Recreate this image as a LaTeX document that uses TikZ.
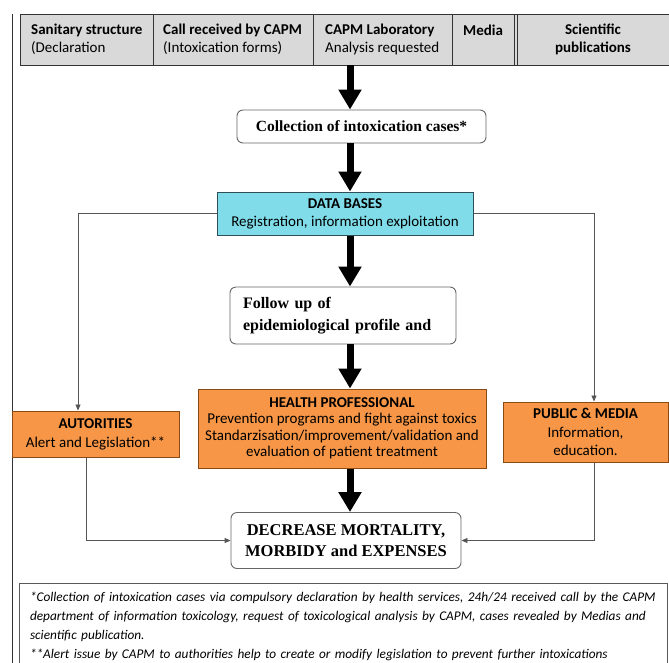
\documentclass[tikz,border=0pt]{standalone}
\usepackage{fontspec}
\setmainfont{Liberation Serif}
\newfontfamily\calfont{Carlito}
\usetikzlibrary{arrows.meta,calc}
\definecolor{hdrgray}{HTML}{D9D9D9}
\definecolor{orng}{HTML}{F79646}
\definecolor{orngdk}{HTML}{8A4A14}
\definecolor{cyanbox}{HTML}{80DCE9}
\definecolor{cyandk}{HTML}{2F4F5A}
\definecolor{lngray}{HTML}{555555}
\tikzset{
  hdrcell/.style={draw=black!80, fill=hdrgray, line width=0.9pt, minimum height=51pt,
    inner sep=0pt},
  hdrtext/.style={inner sep=0pt, align=left, anchor=west,
    font=\calfont\fontsize{15}{18}\selectfont},
  roundbox/.style={draw=black!60, fill=white, rounded corners=6pt, line width=0.9pt,
    inner sep=0pt, font=\bfseries\fontsize{16}{22}\selectfont},
  orngbox/.style={draw=orngdk, fill=orng, line width=1pt, inner sep=0pt, align=center},
  bigarrow/.style={line width=7pt, black, -{Triangle[length=20pt,width=22pt]}},
  thinarrow/.style={line width=0.9pt, lngray, -{Triangle[length=6pt,width=5pt]}}
}
\begin{document}
\begin{tikzpicture}[x=1pt,y=-1pt]
\clip (0,0) rectangle (669,662);
\fill[white] (0,0) rectangle (669,662);
% outer frame line
\draw[line width=1pt, black!80] (12,14) -- (12,670);
% header cells
\node[hdrcell, minimum width=133pt] (h1) at (86.5,39.5) {};
\node[hdrcell, minimum width=160pt] (h2) at (233,39.5) {};
\node[hdrcell, minimum width=139pt] (h3) at (382.5,39.5) {};
\node[hdrcell, minimum width=65pt] (h4) at (484.5,39.5) {};
\node[hdrcell, minimum width=154pt] (h5) at (594,39.5) {};
\draw[line width=0.9pt, black!80] (h5.north west) ++(-2.5,0) -- ++(0,51);
% header texts
\node[hdrtext] (t1) at (31,39.5) {\textbf{Sanitary structure}\\(Declaration};
\node[hdrtext] (t2) at (163,39.5) {\textbf{Call received by CAPM}\\(Intoxication forms)};
\node[hdrtext] (t3) at (325,39.5) {\textbf{CAPM Laboratory}\\Analysis requested};
\node[hdrtext] (t4) at (463,39.5) {\textbf{Media}\\\mbox{}};
\node[hdrtext, anchor=center, align=center] (t5) at (593,39.5) {\textbf{Scientific}\\\textbf{publications}};
% column of boxes
\coordinate (ax) at (350,0);
\node[roundbox, minimum width=249pt, minimum height=33pt, font=\bfseries\fontsize{15.5}{22}\selectfont] (coll) at (361.5,126.5)
  {Collection of intoxication cases*};
\node[draw=cyandk, fill=cyanbox, line width=1pt, inner sep=0pt, align=center,
  minimum width=256pt, minimum height=43pt, font=\calfont\fontsize{15}{18}\selectfont] (db) at (345,213.5)
  {\textbf{DATA BASES}\\Registration, information exploitation};
\node[roundbox, minimum width=226pt, minimum height=57pt, text width=200pt, align=left] (fol) at (343,315.5)
  {Follow up of\\epidemiological profile and};
\node[orngbox, minimum width=288pt, minimum height=79pt, font=\calfont\fontsize{15}{16.5}\selectfont] (hp) at (342,428.5)
  {\textbf{HEALTH PROFESSIONAL}\\Prevention programs and fight against toxics\\Standarzisation/improvement/validation and\\evaluation of patient treatment};
\node[orngbox, minimum width=167pt, minimum height=46pt, font=\calfont\fontsize{15}{19}\selectfont] (aut) at (95.5,434)
  {\textbf{AUTORITIES}\\Alert and Legislation**};
\node[orngbox, minimum width=165pt, minimum height=60pt, font=\calfont\fontsize{15}{18.5}\selectfont] (pub) at (585.5,432)
  {\textbf{PUBLIC \& MEDIA}\\Information,\\education.};
\node[roundbox, minimum width=230pt, minimum height=56pt, align=center, font=\bfseries\fontsize{16.5}{21}\selectfont] (dec) at (346,540.5)
  {DECREASE MORTALITY,\\MORBIDY and EXPENSES};
% thick arrows
\draw[bigarrow] (h3.south -| ax) -- (coll.north -| ax);
\draw[bigarrow] (coll.south -| ax) -- (db.north -| ax);
\draw[bigarrow] (db.south -| ax) -- (fol.north -| ax);
\draw[bigarrow] (fol.south -| ax) -- (hp.north -| ax);
\draw[bigarrow] (hp.south -| ax) -- (dec.north -| ax);
% thin connectors
\coordinate (lx) at (78,0);
\coordinate (rx) at (594,0);
\coordinate (lx2) at (86,0);
\draw[thinarrow] (db.west) -| (lx |- aut.north);
\draw[thinarrow] (db.east) -| (rx |- pub.north);
\draw[thinarrow] (aut.south -| lx2) |- (dec.west);
\draw[thinarrow] (pub.south -| rx) |- (dec.east);
% note
\node[draw=black!65, line width=1pt, fill=white, anchor=north west, minimum width=648pt,
  text width=626pt, inner xsep=11pt, inner ysep=9pt, align=left,
  font=\calfont\itshape\fontsize{13.3}{19}\selectfont] (note) at (18.5,583)
  {\mbox{*Collection of intoxication cases via compulsory declaration by health services, 24h/24 received call by the CAPM}\\
  \mbox{department of information toxicology, request of toxicological analysis by CAPM, cases revealed by Medias and}\\
  \mbox{scientific publication.}\\
  \mbox{**Alert issue by CAPM to authorities help to create or modify legislation to prevent further intoxications}\\[6pt]\mbox{}};
\end{tikzpicture}
\end{document}
